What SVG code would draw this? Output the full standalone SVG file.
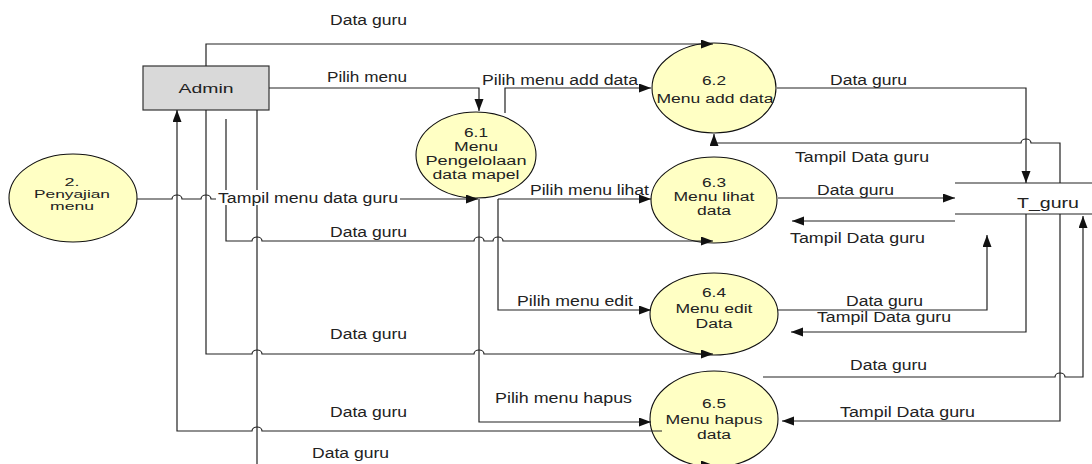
<svg xmlns="http://www.w3.org/2000/svg" width="1092" height="464" viewBox="0 0 1092 464">
  <style>
    .proc { fill: #ffffc4; stroke: #111; stroke-width: 1.1; }
    .ent { fill: #d9d9d9; stroke: #333; stroke-width: 1.2; }
    .store { stroke: #222; stroke-width: 1.2; }
    .flow { fill: none; stroke: #222; stroke-width: 1.2; }
    .arr { marker-end: url(#head); }
    text { font-family: "Liberation Sans", Arial, sans-serif; font-size: 14px; fill: #222; }
    .c { text-anchor: middle; font-size: 12.5px; }
    .s { font-size: 11px; }
  </style>
  <defs>
    <marker id="head" markerUnits="userSpaceOnUse" markerWidth="13" markerHeight="10" refX="12" refY="4.5" orient="auto">
      <path d="M0,0 L12,4.5 L0,9 z" fill="#111"/>
    </marker>
  </defs>
  <rect width="1092" height="464" fill="#fff"/>

  <!-- external entity -->
  <g id="admin">
    <rect class="ent" x="143" y="66" width="126" height="44"/>
    <text class="c" x="206" y="93" textLength="55" lengthAdjust="spacingAndGlyphs">Admin</text>
  </g>

  <!-- processes -->
  <g id="p2">
    <ellipse class="proc" cx="73" cy="198" rx="64" ry="44"/>
    <text class="c s" x="72" y="186" textLength="15" lengthAdjust="spacingAndGlyphs">2.</text>
    <text class="c s" x="72" y="198" textLength="76" lengthAdjust="spacingAndGlyphs">Penyajian</text>
    <text class="c s" x="72" y="210" textLength="44" lengthAdjust="spacingAndGlyphs">menu</text>
  </g>
  <g id="p61">
    <ellipse class="proc" cx="476" cy="155" rx="60" ry="43"/>
    <text class="c" x="476" y="137" textLength="24" lengthAdjust="spacingAndGlyphs">6.1</text>
    <text class="c" x="476" y="151" textLength="44" lengthAdjust="spacingAndGlyphs">Menu</text>
    <text class="c" x="476" y="165" textLength="101" lengthAdjust="spacingAndGlyphs">Pengelolaan</text>
    <text class="c" x="476" y="179" textLength="87" lengthAdjust="spacingAndGlyphs">data mapel</text>
  </g>
  <g id="p62">
    <ellipse class="proc" cx="714" cy="88" rx="62" ry="45"/>
    <text class="c" x="714" y="85" textLength="24" lengthAdjust="spacingAndGlyphs">6.2</text>
    <text class="c" x="715" y="103" textLength="117" lengthAdjust="spacingAndGlyphs">Menu add data</text>
  </g>
  <g id="p63">
    <ellipse class="proc" cx="714" cy="200" rx="63" ry="43"/>
    <text class="c" x="714" y="187" textLength="24" lengthAdjust="spacingAndGlyphs">6.3</text>
    <text class="c" x="714" y="201" textLength="81" lengthAdjust="spacingAndGlyphs">Menu lihat</text>
    <text class="c" x="714" y="215" textLength="34" lengthAdjust="spacingAndGlyphs">data</text>
  </g>
  <g id="p64">
    <ellipse class="proc" cx="714" cy="314" rx="64" ry="41"/>
    <text class="c" x="714" y="297" textLength="24" lengthAdjust="spacingAndGlyphs">6.4</text>
    <text class="c" x="714" y="313" textLength="77" lengthAdjust="spacingAndGlyphs">Menu edit</text>
    <text class="c" x="714" y="328" textLength="37" lengthAdjust="spacingAndGlyphs">Data</text>
  </g>
  <g id="p65">
    <ellipse class="proc" cx="714" cy="419" rx="64" ry="48"/>
    <text class="c" x="714" y="408" textLength="24" lengthAdjust="spacingAndGlyphs">6.5</text>
    <text class="c" x="714" y="424" textLength="97" lengthAdjust="spacingAndGlyphs">Menu hapus</text>
    <text class="c" x="714" y="439" textLength="34" lengthAdjust="spacingAndGlyphs">data</text>
  </g>

  <!-- data store -->
  <g id="t_guru">
    <line class="store" x1="955" y1="183" x2="1092" y2="183"/>
    <line class="store" x1="955" y1="214" x2="1092" y2="214"/>
    <text x="1017" y="208" textLength="62" lengthAdjust="spacingAndGlyphs">T_guru</text>
  </g>

  <!-- data flows -->
  <g id="flows">
    <path class="flow arr" d="M206,66 V44 H713"/>
    <path class="flow arr" d="M269,88 H479 V111"/>
    <path class="flow arr" d="M505,113 V88 H651"/>
    <path class="flow arr" d="M777,88 H1026 V183"/>
    <path class="flow arr" d="M1060,183 V143 H1031 A5,4 0 0 0 1021,143 H714 V134"/>
    <path class="flow arr" d="M137,199 H172 A5,4 0 0 1 182,199 H201 A5,4 0 0 1 211,199 H478"/>
    <path class="flow arr" d="M498,199 H651"/>
    <path class="flow arr" d="M226,119 V241 H252 A5,4 0 0 1 262,241 H474 A5,4 0 0 1 484,241 H493 A5,4 0 0 1 503,241 H713"/>
    <path class="flow arr" d="M778,198 H955"/>
    <path class="flow arr" d="M955,221 H792"/>
    <path class="flow arr" d="M498,199 V310 H651"/>
    <path class="flow arr" d="M778,310 H987 V235"/>
    <path class="flow arr" d="M1026,214 V332 H791"/>
    <path class="flow arr" d="M206,110 V354 H252 A5,4 0 0 1 262,354 H474 A5,4 0 0 1 484,354 H713"/>
    <path class="flow arr" d="M763,377 H1055 A5,4 0 0 1 1065,377 H1083 V216"/>
    <path class="flow arr" d="M1060,214 V421 H782"/>
    <path class="flow arr" d="M479,199 V422 H651"/>
    <path class="flow arr" d="M662,431 H262 A5,4 0 0 0 252,431 H177 V110"/>
    <path class="flow arr" d="M257,110 V465 H713"/>

    <!-- flow labels -->
    <text x="330" y="25" textLength="77" lengthAdjust="spacingAndGlyphs">Data guru</text>
    <text x="327" y="82" textLength="80" lengthAdjust="spacingAndGlyphs">Pilih menu</text>
    <text x="482" y="85" textLength="156" lengthAdjust="spacingAndGlyphs">Pilih menu add data</text>
    <text x="830" y="85" textLength="77" lengthAdjust="spacingAndGlyphs">Data guru</text>
    <text x="795" y="162" textLength="134" lengthAdjust="spacingAndGlyphs">Tampil Data guru</text>
    <rect x="216" y="190" width="184" height="15" fill="#fff"/>
    <text x="218" y="203" textLength="180" lengthAdjust="spacingAndGlyphs">Tampil menu data guru</text>
    <text x="530" y="195" textLength="119" lengthAdjust="spacingAndGlyphs">Pilih menu lihat</text>
    <text x="817" y="195" textLength="77" lengthAdjust="spacingAndGlyphs">Data guru</text>
    <text x="330" y="237" textLength="77" lengthAdjust="spacingAndGlyphs">Data guru</text>
    <text x="790" y="243" textLength="135" lengthAdjust="spacingAndGlyphs">Tampil Data guru</text>
    <text x="517" y="306" textLength="116" lengthAdjust="spacingAndGlyphs">Pilih menu edit</text>
    <text x="846" y="306" textLength="77" lengthAdjust="spacingAndGlyphs">Data guru</text>
    <text x="817" y="322" textLength="134" lengthAdjust="spacingAndGlyphs">Tampil Data guru</text>
    <text x="330" y="339" textLength="77" lengthAdjust="spacingAndGlyphs">Data guru</text>
    <text x="850" y="370" textLength="77" lengthAdjust="spacingAndGlyphs">Data guru</text>
    <text x="495" y="403" textLength="137" lengthAdjust="spacingAndGlyphs">Pilih menu hapus</text>
    <text x="330" y="417" textLength="77" lengthAdjust="spacingAndGlyphs">Data guru</text>
    <text x="840" y="417" textLength="135" lengthAdjust="spacingAndGlyphs">Tampil Data guru</text>
    <text x="312" y="458" textLength="77" lengthAdjust="spacingAndGlyphs">Data guru</text>
  </g>
</svg>
